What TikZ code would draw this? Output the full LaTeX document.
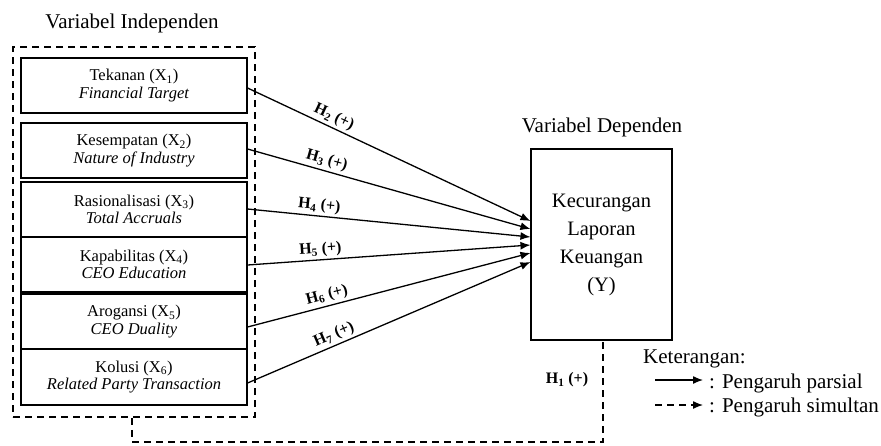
\documentclass[tikz,border=0pt]{standalone}
\usepackage{fontspec}
\setmainfont{Liberation Serif}
\usetikzlibrary{arrows.meta,calc}
\begin{document}
\begin{tikzpicture}[x=1pt,y=-1pt,
  vbox/.style={draw, line width=1.1pt, minimum width=226pt, minimum height=55pt, inner sep=0pt, align=center, font=\fontsize{16.5}{17.5}\selectfont},
  arr/.style={line width=1.3pt, -{Latex[length=10pt,width=8pt]}},
  dashln/.style={line width=1.5pt, dash pattern=on 7pt off 5pt},
  hl/.style={sloped, above, inner sep=2.5pt, font=\fontsize{16}{16}\selectfont\bfseries},
  ttl/.style={font=\fontsize{21}{21}\selectfont, inner sep=0pt}
]
\useasboundingbox (0,0) rectangle (881,445);
\node[ttl] (ti) at (132,23) {Variabel Independen};
\node[draw, dashln, minimum width=242pt, minimum height=370pt, inner sep=0pt] (indep) at (134,232) {};
\node[vbox] (x1) at (134,85.5) {Tekanan (X\textsubscript{1})\\\textit{Financial Target}};
\node[vbox] (x2) at (134,150.5) {Kesempatan (X\textsubscript{2})\\\textit{Nature of Industry}};
\node[vbox] (x3) at (134,209.5) {Rasionalisasi (X\textsubscript{3})\\\textit{Total Accruals}};
\node[vbox] (x4) at (134,264.5) {Kapabilitas (X\textsubscript{4})\\\textit{CEO Education}};
\node[vbox] (x5) at (134,321.5) {Arogansi (X\textsubscript{5})\\\textit{CEO Duality}};
\node[vbox, minimum height=56pt] (x6) at (134,377) {Kolusi (X\textsubscript{6})\\\textit{Related Party Transaction}};
\node[ttl] (td) at (602,127) {Variabel Dependen};
\node[draw, line width=1.1pt, minimum width=141pt, minimum height=191pt, inner sep=0pt, align=center, font=\fontsize{20.5}{28}\selectfont] (ybox) at (601.5,244.5) {Kecurangan\\Laporan\\Keuangan\\(Y)};
\draw[arr] ([yshift=-2.5pt]x1.east) -- node[hl, pos=.29]{H\textsubscript{2} (+)} ([yshift=23.5pt]ybox.west);
\draw[arr] ([yshift=1.5pt]x2.east) -- node[hl, pos=.27]{H\textsubscript{3} (+)} ([yshift=15.5pt]ybox.west);
\draw[arr] ([yshift=0.5pt]x3.east) -- node[hl, pos=.25]{H\textsubscript{4} (+)} ([yshift=7.5pt]ybox.west);
\draw[arr] ([yshift=-0.5pt]x4.east) -- node[hl, pos=.26]{H\textsubscript{5} (+)} ([yshift=-0.5pt]ybox.west);
\draw[arr] ([yshift=-5.5pt]x5.east) -- node[hl, pos=.29]{H\textsubscript{6} (+)} ([yshift=-8.5pt]ybox.west);
\draw[arr] ([yshift=-6pt]x6.east) -- node[hl, pos=.32]{H\textsubscript{7} (+)} ([yshift=-17.5pt]ybox.west);
\draw[dashln] ([xshift=-2pt]indep.south) -- ++(0,24) -| ([xshift=1.5pt]ybox.south);
\node[font=\fontsize{16}{16}\selectfont\bfseries, inner sep=0pt] (h1) at (567,380) {H\textsubscript{1} (+)};
\node[font=\fontsize{21}{21}\selectfont, anchor=base west, inner sep=0pt] (ket) at (643,363) {Keterangan:};
\coordinate (la1) at (655,380);
\coordinate (lb1) at (703,380);
\coordinate (la2) at (655,405);
\coordinate (lb2) at (703,405);
\draw[arr] (la1) -- (lb1);
\draw[line width=1.3pt, dash pattern=on 7pt off 5pt, -{Latex[length=10pt,width=8pt]}] (la2) -- (lb2);
\node[font=\fontsize{21}{21}\selectfont, anchor=base west, inner sep=0pt] (lp) at (709,388) {: Pengaruh parsial};
\node[font=\fontsize{21}{21}\selectfont, anchor=base west, inner sep=0pt] (ls) at (709,412) {: Pengaruh simultan};
\end{tikzpicture}
\end{document}
